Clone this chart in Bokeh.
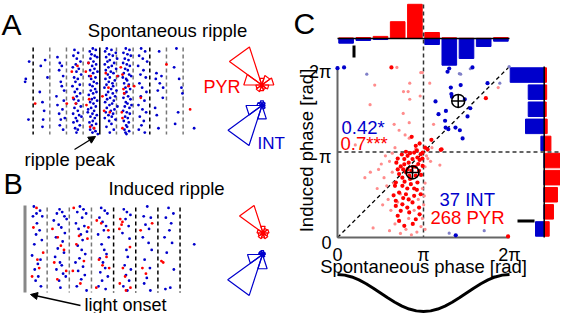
import numpy as np
from bokeh.plotting import figure
from bokeh.models import Range1d, Arrow, NormalHead
from bokeh.core.properties import value
from bokeh.embed import file_html
from bokeh.resources import INLINE

FONT = "Liberation Sans"
BLUE = "#0000cc"
RED = "#ff0000"
TWO_PI = 2 * np.pi

# ---------------- data ----------------
# Panel A raster: (time [ms] from ripple peak, trial)
a_int = [(-21.2, 9), (-22.2, 21), (-22.4, 23), (-21.4, 49), (-17.2, 37), (-17.7, 12), (-16.4, 8), (-15.7, 20),
         (-17.0, 49), (-16.7, 43), (-17.2, 54), (-18.0, 30),
         (-12.7, 6), (-12.0, 10), (-11.4, 12), (-12.2, 15), (-11.0, 19), (-11.7, 23), (-11.4, 26), (-10.7, 29),
         (-12.7, 39), (-11.2, 42), (-12.2, 45), (-11.7, 49), (-12.0, 53), (-10.5, 48), (-11.0, 56), (-13.0, 33), (-10.8, 36),
         (-7.6, 1), (-6.5, 3), (-7.9, 5), (-6.9, 7), (-5.8, 9), (-7.2, 11), (-8.1, 13), (-6.3, 14), (-7.0, 16), (-5.6, 18),
         (-7.7, 20), (-6.6, 21), (-7.3, 23), (-6.0, 25), (-8.2, 26), (-6.8, 28), (-7.5, 30), (-5.9, 31), (-6.9, 33),
         (-7.8, 35), (-6.4, 36), (-7.1, 38), (-5.7, 40), (-7.6, 41), (-6.6, 43), (-8.0, 45), (-6.2, 46), (-7.2, 48),
         (-6.8, 50), (-7.9, 51), (-6.0, 53), (-7.4, 55), (-6.6, 56), (-7.0, 58), (-5.5, 47),
         (-2.1, 0), (-1.2, 1), (-3.0, 2), (-2.5, 4), (-1.5, 5), (-0.8, 6), (-2.8, 7), (-1.9, 9), (-3.4, 10), (-1.1, 11),
         (-2.3, 12), (-1.6, 14), (-2.9, 15), (-0.7, 16), (-2.0, 17), (-3.2, 19), (-1.3, 20), (-2.6, 21), (-1.8, 23),
         (-0.9, 24), (-3.0, 25), (-2.2, 26), (-1.4, 28), (-2.7, 29), (-1.0, 30), (-2.0, 31), (-3.3, 32), (-1.6, 34),
         (-2.4, 35), (-0.8, 36), (-2.9, 37), (-1.9, 38), (-1.2, 40), (-2.6, 41), (-3.5, 42), (-1.7, 43), (-2.2, 45),
         (-0.9, 46), (-2.8, 47), (-1.5, 48), (-2.1, 50), (-3.1, 51), (-1.1, 52), (-2.4, 53), (-1.8, 55), (-2.9, 56),
         (-1.3, 57), (-2.2, 58), (-0.6, 59), (-3.6, 44),
         (2.1, 0), (3.5, 1), (1.6, 2), (4.8, 3), (2.8, 4), (3.9, 5), (1.9, 6), (5.2, 7), (3.0, 8), (2.3, 9), (4.3, 10),
         (1.5, 11), (3.6, 12), (2.6, 13), (4.9, 14), (1.8, 15), (3.3, 16), (4.1, 17), (2.4, 18), (5.5, 19), (3.0, 20),
         (1.7, 21), (4.5, 22), (2.7, 23), (3.8, 24), (2.0, 25), (4.0, 26), (1.4, 27), (3.4, 28), (5.0, 29), (2.5, 30),
         (3.9, 31), (1.9, 32), (4.6, 33), (3.1, 34), (2.2, 35), (4.2, 36), (1.6, 37), (3.7, 38), (2.9, 39), (5.3, 40),
         (2.1, 41), (4.4, 42), (3.3, 43), (1.8, 44), (4.0, 45), (2.6, 46), (3.6, 47), (1.5, 48), (4.7, 49), (2.8, 50),
         (3.5, 52), (2.0, 54), (4.2, 56), (3.0, 58),
         (7.8, 0), (8.9, 1), (7.1, 3), (8.3, 4), (9.3, 5), (7.5, 7), (8.6, 8), (7.0, 10), (8.1, 11), (9.0, 12), (7.6, 14),
         (8.4, 15), (7.2, 17), (8.8, 18), (9.4, 19), (7.9, 21), (8.2, 22), (7.3, 24), (8.7, 25), (7.7, 27), (9.1, 28),
         (8.0, 30), (7.4, 31), (8.5, 33), (7.1, 34), (9.2, 35), (7.8, 37), (8.3, 38), (7.5, 40), (8.9, 41), (7.0, 43),
         (8.1, 44), (9.0, 45), (7.6, 47), (8.4, 48), (7.2, 50), (8.7, 51), (7.9, 53), (8.2, 54), (7.4, 56), (8.8, 57),
         (7.7, 58), (8.0, 59), (9.5, 39), (6.9, 20),
         (12.4, 0), (13.6, 2), (11.8, 5), (12.9, 7), (14.2, 9), (11.5, 12), (13.1, 15), (12.2, 18), (13.8, 20),
         (11.9, 24), (12.7, 27), (14.0, 30), (12.3, 33), (13.4, 36), (11.6, 39), (12.8, 42), (13.9, 44), (12.0, 47),
         (13.2, 50), (12.5, 53), (11.7, 56), (13.5, 58),
         (17.8, 2), (17.0, 17), (18.5, 19), (16.8, 21), (18.0, 24), (17.4, 29), (18.9, 34), (16.6, 41), (17.1, 46),
         (17.6, 55), (19.0, 27),
         (23.0, 0), (22.3, 13), (23.8, 21), (24.5, 27), (24.8, 31), (23.5, 44), (22.6, 52), (28.3, 55)]
a_pyr = [(-19.4, 38), (-9.9, 38), (-8.4, 16), (-8.0, 34), (-7.2, 38), (-6.7, 12), (-4.2, 16), (-4.0, 39), (-3.4, 10),
         (-2.7, 19), (-3.2, 35), (-2.9, 54), (-1.7, 55), (0.8, 33), (1.3, 43), (1.8, 17), (2.6, 27), (3.0, 44),
         (5.3, 19), (6.3, 13), (6.8, 18), (7.1, 28), (7.3, 31), (6.6, 44), (6.8, 48), (6.8, 55), (8.6, 26),
         (10.3, 26), (12.3, 34), (20.0, 11), (27.1, 42)]
a_cycle_lines = [-20, -15, -10, -5, 5, 10, 15, 20, 25]

# Panel B raster: (time [ms] from light onset, trial)
b_int = [(2.0, 0), (3.4, 3), (2.6, 5), (1.8, 7), (3.9, 7), (2.7, 12), (3.3, 17), (2.5, 20), (3.8, 24), (2.1, 27),
         (1.6, 35), (3.5, 38), (2.9, 41), (2.2, 45), (3.0, 50), (2.4, 53), (3.6, 57),
         (7.8, 2), (8.4, 4), (7.2, 5), (8.9, 7), (9.4, 9), (6.5, 10), (7.6, 13), (8.2, 15), (9.0, 19), (7.0, 22),
         (8.5, 25), (7.4, 30), (8.8, 33), (6.8, 36), (7.9, 40), (8.3, 42), (7.1, 45), (8.6, 48), (7.7, 53), (8.0, 58), (9.2, 50),
         (12.4, 0), (13.2, 2), (11.8, 4), (13.8, 5), (12.9, 8), (11.5, 12), (13.4, 14), (12.1, 16), (14.0, 18),
         (12.6, 20), (13.0, 24), (11.9, 28), (12.8, 31), (13.6, 34), (12.3, 37), (11.4, 40), (13.1, 43), (12.0, 46),
         (13.5, 49), (12.7, 52), (11.7, 57), (13.9, 60),
         (17.2, 1), (18.0, 3), (18.6, 5), (16.8, 8), (17.5, 11), (18.3, 14), (17.8, 17), (16.5, 20), (18.9, 22),
         (17.3, 27), (17.9, 31), (18.4, 34), (16.9, 37), (17.6, 40), (18.1, 44), (17.0, 47), (18.7, 50), (17.4, 53),
         (16.6, 57), (18.2, 59),
         (22.3, 2), (23.0, 4), (23.8, 6), (22.7, 9), (23.4, 14), (22.0, 19), (23.6, 23), (22.9, 31), (23.2, 36),
         (22.5, 42), (23.9, 45), (22.8, 49), (23.5, 53), (22.2, 57), (23.1, 60),
         (27.6, 0), (26.8, 7), (28.4, 8), (27.2, 13), (28.0, 16), (26.6, 22), (27.9, 26), (28.6, 31), (27.0, 38),
         (28.2, 44), (27.5, 51), (26.9, 55), (28.3, 60),
         (32.4, 1), (33.5, 5), (31.8, 8), (33.0, 12), (32.6, 17), (31.5, 22), (33.2, 26), (32.0, 33), (33.6, 45),
         (32.8, 58), (31.7, 59), (38.2, 27)]
b_pyr = [(2.6, 1), (1.9, 15), (2.8, 38), (1.6, 50), (3.2, 44), (4.1, 33),
         (6.2, 16), (7.4, 22), (8.1, 28), (6.6, 40), (9.3, 46), (7.3, 52), (8.8, 31),
         (11.0, 1), (12.2, 21), (11.6, 27), (13.3, 39), (14.1, 23), (10.8, 46), (12.5, 55), (14.3, 15),
         (16.2, 10), (17.2, 12), (16.7, 38), (18.4, 36), (17.5, 42), (16.1, 58), (19.0, 44), (18.8, 17),
         (21.5, 9), (22.0, 11), (21.3, 16), (23.7, 29), (22.1, 44), (22.6, 50), (21.4, 55), (23.8, 58), (22.8, 60), (21.8, 13),
         (26.1, 17), (28.7, 12), (26.5, 44), (27.3, 48), (30.8, 39), (31.2, 40)]
b_cycle_lines = [5, 10, 15, 20, 25, 30, 35]

# Rose plots: counts in 10 bins of 36 degrees (0..360, counter-clockwise)
rose_a_pyr = [12, 10, 7, 40, 18, 6, 7, 6, 5, 7]
rose_a_int = [3, 4, 5, 4, 5, 16, 42, 14, 4, 3]
rose_b_pyr = [6, 5, 7, 29, 6, 5, 6, 5, 6, 5]
rose_b_int = [3, 3, 4, 4, 4, 15, 43, 15, 3, 2]

# Panel C: (spontaneous phase, induced phase) [rad]
c_int = [(0.0, 6.22), (0.24, 6.25), (4.08, 6.21), (4.02, 6.09), (4.93, 6.25), (4.50, 5.60), (4.14, 5.51),
         (4.16, 5.27), (3.58, 5.0), (4.18, 5.17), (4.65, 5.08), (4.85, 4.75), (3.96, 4.65), (3.69, 4.53),
         (3.93, 4.29), (3.95, 4.04), (4.05, 3.98), (4.31, 4.04), (4.47, 3.94), (4.75, 4.45), (4.57, 3.64),
         (5.48, 5.67), (4.32, 0.08)]
c_int_ns = [(1.07, 6.0), (4.5, 6.0), (4.45, 6.02), (4.85, 6.2), (5.93, 5.67), (6.27, 6.28), (4.08, 0.16), (5.36, 0.25)]
c_pyr = [(2.31, 2.61), (2.44, 2.69), (2.56, 2.51), (2.25, 2.33), (2.37, 2.20), (2.62, 2.27), (2.86, 2.27),
         (2.98, 2.45), (3.11, 2.63), (2.74, 2.88), (2.92, 2.94), (3.04, 3.06), (3.11, 3.12), (2.80, 3.12),
         (2.56, 3.0), (2.44, 2.88), (2.13, 2.02), (2.37, 1.90), (2.68, 1.96), (2.92, 2.02), (2.25, 1.65),
         (2.50, 1.59), (2.80, 1.53), (3.04, 1.59), (2.13, 1.35), (2.37, 1.22), (2.74, 1.29), (2.31, 0.98),
         (2.62, 0.92), (2.25, 0.61), (2.44, 0.43), (2.13, 1.16), (2.98, 1.10), (2.86, 0.67),
         (2.2, 2.9), (2.35, 3.05), (2.5, 3.15), (2.65, 3.1), (2.9, 3.2), (3.0, 2.85), (2.85, 2.6), (2.7, 2.45),
         (2.5, 2.4), (2.4, 2.5), (2.95, 2.7), (3.1, 2.9), (2.2, 2.5), (2.15, 2.75), (2.6, 2.75), (2.75, 2.6),
         (3.05, 2.3), (2.45, 2.05), (2.55, 1.8), (2.8, 1.8), (2.1, 1.9), (2.65, 2.15), (2.9, 1.75), (2.4, 1.45),
         (2.6, 1.4), (2.05, 1.55), (2.2, 0.8), (2.75, 0.5), (3.0, 0.85), (2.55, 1.1),
         (1.97, 6.25), (2.71, 3.70), (2.86, 3.37), (5.42, 5.12), (3.43, 3.59), (3.80, 3.24), (3.29, 3.24),
         (3.77, 3.22), (6.23, 0.04), (3.2, 3.3), (3.0, 3.45)]
c_pyr_ns = [(2.17, 6.25), (1.36, 5.6), (1.19, 4.88), (2.64, 5.67), (2.41, 5.36), (2.58, 5.36), (2.64, 5.08),
            (3.04, 6.06), (3.02, 5.2), (2.40, 4.56), (2.62, 4.22), (2.07, 4.16), (2.25, 3.94), (2.47, 3.77),
            (2.62, 3.65), (3.0, 3.49), (0.40, 4.22), (0.65, 3.40), (3.37, 5.67), (3.1, 6.06), (3.51, 4.16),
            (5.87, 5.51), (3.74, 2.66), (3.17, 1.53), (1.5, 2.5), (1.7, 2.2), (1.8, 1.9), (1.6, 2.7), (1.9, 2.8),
            (2.0, 2.4), (1.85, 1.4), (1.95, 1.0), (2.1, 0.5), (2.5, 0.3), (2.9, 0.2), (3.1, 0.7), (3.15, 1.2),
            (3.2, 2.0), (3.2, 2.6), (2.0, 3.1), (1.75, 3.0), (2.3, 0.15), (1.3, 0.35), (2.7, 0.1), (3.05, 0.4),
            (1.2, 2.4), (1.45, 1.8), (2.05, 2.0), (2.7, 2.2), (2.95, 1.4), (2.3, 1.6), (3.3, 2.9), (3.4, 2.8),
            (3.25, 3.0), (2.8, 1.0), (2.6, 0.7), (2.2, 1.3), (3.1, 1.8), (2.45, 2.9), (2.85, 3.25), (3.3, 3.2),
            (3.45, 3.3), (2.1, 3.3), (1.0, 2.2), (1.65, 1.2), (3.2, 0.3), (1.9, 0.25)]
c_int_mean = (4.41, 5.02)
c_pyr_mean = (2.74, 2.39)

# Marginal histograms (fraction of cells per 36-degree phase bin)
hist_spont_pyr = [0.01, 0.015, 0.035, 0.28, 0.57, 0.10, 0.012, 0.004, 0.003, 0.015]
hist_spont_int = [0.078, 0.033, 0.017, 0.0, 0.0, 0.10, 0.445, 0.333, 0.133, 0.045]
hist_ind_pyr = [0.059, 0.109, 0.156, 0.247, 0.28, 0.079, 0.035, 0.024, 0.029, 0.027]
hist_ind_int = [0.102, 0.0, 0.0, 0.0, 0.0, 0.039, 0.22, 0.188, 0.188, 0.40]

# Reference LFP cycle (cosine, one period)
wave_phase = [i * TWO_PI / 24 for i in range(25)]
wave_val = [1, 0.966, 0.866, 0.707, 0.5, 0.259, 0, -0.259, -0.5, -0.707, -0.866, -0.966, -1,
            -0.966, -0.866, -0.707, -0.5, -0.259, 0, 0.259, 0.5, 0.707, 0.866, 0.966, 1]

tick_vals = [0, np.pi, TWO_PI]
tick_text = ["0", "π", "2π"]

# ---------------- figure ----------------
W, H = 560, 313
p = figure(width=W, height=H, x_range=Range1d(8, 568), y_range=Range1d(321, 8),
           output_backend="svg", toolbar_location=None, min_border=0,
           x_axis_location=None, y_axis_location=None)
p.grid.visible = False
p.outline_line_color = None
p.background_fill_color = "white"

DY = 5  # text middle offset


def xr(px0, ppu):
    s = -(px0 - 8) / ppu
    return Range1d(s, s + W / ppu)


def yr(py0, ppu):
    return Range1d((py0 - 321) / ppu, (py0 - 8) / ppu)


cpx = 172 / TWO_PI
cpy = 171 / TWO_PI
p.extra_x_ranges = {"cx": xr(345, cpx), "ax": xr(107.3, 3.333), "bx": xr(32.5, 4.43), "hr": xr(551.7, 85)}
p.extra_y_ranges = {"cyt": yr(245 + DY, cpy), "cy": yr(245, cpy), "ay": yr(56, -1.45), "by": yr(214, -1.4),
                    "ht": yr(46, 60), "wy": yr(300.5, 18.5)}


def txt(x, y, s, size, color="black", align="left", angle=0):
    p.text(x=[x], y=[y + (DY if angle == 0 else 0)], text=[s], text_font=value(FONT),
           text_font_size=f"{size}px", text_color=color, text_align=align, text_baseline="middle", angle=angle)


def dots(pts, xname, yname, size, color):
    p.scatter(x=[a[0] for a in pts], y=[a[1] for a in pts], x_range_name=xname, y_range_name=yname,
              size=size, fill_color=color, line_color=None, marker="circle")


# ---- Panel A ----
txt(9, 27, "A", 30)
txt(175, 33, "Spontaneous ripple", 18.5, align="center")
for t in a_cycle_lines:
    col = "#000000" if t in (-20, 15) else "#777777"
    p.segment(x0=[t], y0=[55], x1=[t], y1=[142], x_range_name="ax", line_color=col,
              line_width=1.5, line_dash="4 3")
p.segment(x0=[0], y0=[55], x1=[0], y1=[142], x_range_name="ax", line_color="black", line_width=1.5)
dots(a_int, "ax", "ay", 2.8, BLUE)
dots(a_pyr, "ax", "ay", 2.8, RED)
txt(32, 162, "ripple peak", 18.5)
p.add_layout(Arrow(end=NormalHead(size=7, fill_color="black", line_color="black"),
                   x_start=82, y_start=157, x_end=103, y_end=144, line_width=1.3))

# ---- Panel B ----
txt(11, 186, "B", 29)
txt(174, 191, "Induced ripple", 18.5, align="center")
p.segment(x0=[0], y0=[213], x1=[0], y1=[300], x_range_name="bx", line_color="#888888", line_width=3)
for t in b_cycle_lines:
    col = "#777777" if t <= 15 else "#000000"
    p.segment(x0=[t], y0=[215], x1=[t], y1=[300], x_range_name="bx", line_color=col,
              line_width=1.5, line_dash="4 3")
dots(b_int, "bx", "by", 2.8, BLUE)
dots(b_pyr, "bx", "by", 2.8, RED)
txt(92, 307, "light onset", 18)
p.add_layout(Arrow(end=NormalHead(size=7, fill_color="black", line_color="black"),
                   x_start=88, y_start=313, x_end=38, y_end=302, line_width=1.3))


# ---- Rose plots ----
def rose(cx, cy, counts, color, k=1.0):
    xs, ys = [], []
    n = len(counts)
    for i, c in enumerate(counts):
        a1 = TWO_PI * i / n
        a2 = TWO_PI * (i + 1) / n
        r = c * k
        xs.append([cx, cx + r * np.cos(a1), cx + r * np.cos(a2), cx])
        ys.append([cy, cy - r * np.sin(a1), cy - r * np.sin(a2), cy])
    p.patches(xs, ys, fill_alpha=0, line_color=color, line_width=1.2)


rose(269.3, 92.5, rose_a_pyr, RED)
rose(269.5, 113, rose_a_int, BLUE)
rose(270.5, 240.5, rose_b_pyr, RED)
rose(270, 262, rose_b_int, BLUE)
txt(211, 89, "PYR", 18, color=RED)
txt(265, 146, "INT", 17, color=BLUE)

# ---- Panel C ----
txt(301, 26, "C", 30)
nb = len(hist_spont_pyr)
bw = TWO_PI / nb
centers = [(i + 0.5) * bw for i in range(nb)]
p.vbar(x=centers, width=0.85 * bw, bottom=0, top=hist_spont_pyr, x_range_name="cx", y_range_name="ht",
       color=RED)
p.vbar(x=centers, width=0.85 * bw, top=0, bottom=[-v for v in hist_spont_int], x_range_name="cx",
       y_range_name="ht", color=BLUE)
p.segment(x0=[0], y0=[0], x1=[TWO_PI], y1=[0], x_range_name="cx", y_range_name="ht",
          line_color="black", line_width=1.5)
p.segment(x0=[361.5], y0=[53], x1=[361.5], y1=[65], line_color="black", line_width=3)

p.hbar(y=centers, height=0.85 * bw, left=0, right=hist_ind_pyr, x_range_name="hr", y_range_name="cy",
       color=RED)
p.hbar(y=centers, height=0.85 * bw, right=0, left=[-v for v in hist_ind_int], x_range_name="hr",
       y_range_name="cy", color=BLUE)
p.segment(x0=[0], y0=[0], x1=[0], y1=[TWO_PI], x_range_name="hr", y_range_name="cy",
          line_color="black", line_width=1.5)
p.segment(x0=[525], y0=[228.5], x1=[542], y1=[228.5], line_color="black", line_width=3)

# dashed guides
p.segment(x0=[np.pi], y0=[12], x1=[np.pi], y1=[245], x_range_name="cx", line_color="#333333",
          line_width=1.5, line_dash="4 3")
p.segment(x0=[345], y0=[np.pi], x1=[576], y1=[np.pi], y_range_name="cy", line_color="#333333",
          line_width=1.5, line_dash="4 3")
p.segment(x0=[0], y0=[0], x1=[TWO_PI], y1=[TWO_PI], x_range_name="cx", y_range_name="cy",
          line_color="black", line_width=1.3, line_dash="4 3")

# axes
p.segment(x0=[0, 0], y0=[0, 0], x1=[0, TWO_PI], y1=[TWO_PI, 0], x_range_name="cx", y_range_name="cy",
          line_color="#666666", line_width=2)
for v, s in zip(tick_vals, tick_text):
    p.text(x=[v], y=[257 + DY], text=[s], x_range_name="cx", text_font=value(FONT), text_font_size="18px",
           text_align="center", text_baseline="middle")
    p.text(x=[339], y=[v], text=[s], y_range_name="cyt", text_font=value(FONT), text_font_size="18px",
           text_align="right", text_baseline="middle")
txt(431, 269, "Spontaneous phase [rad]", 18.5, align="center")
txt(314, 158, "Induced phase [rad]", 18.5, align="center", angle=np.pi / 2)

# scatter
dots(c_pyr_ns, "cx", "cy", 3.2, "#ff8c8c")
dots(c_int_ns, "cx", "cy", 3.2, "#8080c8")
dots(c_pyr, "cx", "cy", 4.2, RED)
dots(c_int, "cx", "cy", 4.2, BLUE)
p.scatter(x=[c_int_mean[0], c_pyr_mean[0]], y=[c_int_mean[1], c_pyr_mean[1]], x_range_name="cx",
          y_range_name="cy", size=13, marker="circle_cross", fill_alpha=0, line_color="black", line_width=1.5)

txt(349, 130, "0.42*", 18.5, color=BLUE)
txt(348, 146, "0.7***", 18.5, color=RED)
txt(447, 202, "37 INT", 18.5, color=BLUE)
txt(438, 220, "268 PYR", 18.5, color=RED)

# reference cycle
p.line(x=wave_phase, y=wave_val, x_range_name="cx", y_range_name="wy", line_color="black", line_width=3)

open("out.html", "w").write(file_html(p, INLINE))
